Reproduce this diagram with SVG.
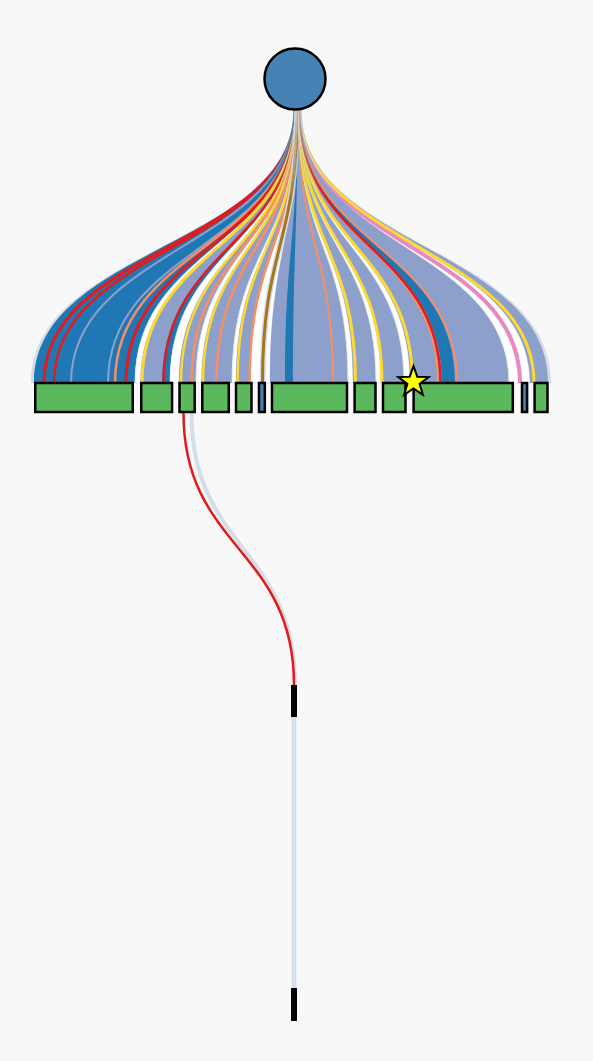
<svg xmlns="http://www.w3.org/2000/svg" width="593" height="1061" viewBox="0 0 593 1061">
<style>
.bar{fill:#5cb85c;stroke:#000;stroke-width:2.5}
.thin{fill:#4682b4;stroke:#000;stroke-width:2.5}
.term{fill:#000}
.bl{fill:#1f77b4}
.pu{fill:#8da0cb}
.wh{fill:#ffffff;stroke:#dde3ec;stroke-width:0.8}
.ln{fill:none}
</style>
<defs>
<clipPath id="env"><path d="M293.4,110 C293.4,246.5 31,246.5 31,383 L551,383 C551,246.5 301.6,246.5 301.6,110 Z"/></clipPath>
<linearGradient id="fade" gradientUnits="userSpaceOnUse" x1="0" y1="112" x2="0" y2="200">
<stop offset="0" stop-color="#fff" stop-opacity="0.2"/>
<stop offset="1" stop-color="#fff" stop-opacity="1"/>
</linearGradient>
<mask id="fm" maskUnits="userSpaceOnUse" x="0" y="0" width="593" height="420"><rect x="0" y="0" width="593" height="420" fill="url(#fade)"/></mask>
</defs>
<rect width="593" height="1061" fill="#f8f8f8"/>
<g id="connectors">
<path d="M293.4,110 C293.4,246.5 31,246.5 31,383 L551,383 C551,246.5 301.6,246.5 301.6,110 Z" fill="#d3dce8"/>
<path class="bl" d="M293.52,110 C293.52,246.5 34,246.5 34,383 L135,383 C135,246.5 295.08,246.5 295.08,110 Z"/>
<path class="wh" d="M295.08,110 C295.08,246.5 135,246.5 135,383 L140.5,383 C140.5,246.5 295.16,246.5 295.16,110 Z"/>
<path class="pu" d="M295.16,110 C295.16,246.5 140.5,246.5 140.5,383 L162,383 C162,246.5 295.49,246.5 295.49,110 Z"/>
<path class="bl" d="M295.49,110 C295.49,246.5 162,246.5 162,383 L170,383 C170,246.5 295.62,246.5 295.62,110 Z"/>
<path class="wh" d="M295.62,110 C295.62,246.5 170,246.5 170,383 L179,383 C179,246.5 295.75,246.5 295.75,110 Z"/>
<path class="pu" d="M295.75,110 C295.75,246.5 179,246.5 179,383 L196,383 C196,246.5 296.02,246.5 296.02,110 Z"/>
<path class="wh" d="M296.02,110 C296.02,246.5 196,246.5 196,383 L201.5,383 C201.5,246.5 296.1,246.5 296.1,110 Z"/>
<path class="pu" d="M296.1,110 C296.1,246.5 201.5,246.5 201.5,383 L232,383 C232,246.5 296.57,246.5 296.57,110 Z"/>
<path class="wh" d="M296.57,110 C296.57,246.5 232,246.5 232,383 L236,383 C236,246.5 296.64,246.5 296.64,110 Z"/>
<path class="pu" d="M296.64,110 C296.64,246.5 236,246.5 236,383 L250.5,383 C250.5,246.5 296.86,246.5 296.86,110 Z"/>
<path class="wh" d="M296.86,110 C296.86,246.5 250.5,246.5 250.5,383 L270,383 C270,246.5 297.16,246.5 297.16,110 Z"/>
<path class="pu" d="M297.16,110 C297.16,246.5 270,246.5 270,383 L348,383 C348,246.5 298.36,246.5 298.36,110 Z"/>
<path class="bl" d="M297.39,110 C297.39,246.5 285,246.5 285,383 L293,383 C293,246.5 297.52,246.5 297.52,110 Z"/>
<path class="wh" d="M298.36,110 C298.36,246.5 348,246.5 348,383 L353,383 C353,246.5 298.44,246.5 298.44,110 Z"/>
<path class="pu" d="M298.44,110 C298.44,246.5 353,246.5 353,383 L376,383 C376,246.5 298.8,246.5 298.8,110 Z"/>
<path class="wh" d="M298.8,110 C298.8,246.5 376,246.5 376,383 L381,383 C381,246.5 298.87,246.5 298.87,110 Z"/>
<path class="pu" d="M298.87,110 C298.87,246.5 381,246.5 381,383 L404,383 C404,246.5 299.23,246.5 299.23,110 Z"/>
<path class="wh" d="M299.23,110 C299.23,246.5 404,246.5 404,383 L410,383 C410,246.5 299.32,246.5 299.32,110 Z"/>
<path class="pu" d="M299.32,110 C299.32,246.5 410,246.5 410,383 L509,383 C509,246.5 300.85,246.5 300.85,110 Z"/>
<path class="bl" d="M299.82,110 C299.82,246.5 442,246.5 442,383 L455,383 C455,246.5 300.02,246.5 300.02,110 Z"/>
<path class="wh" d="M300.85,110 C300.85,246.5 509,246.5 509,383 L530,383 C530,246.5 301.18,246.5 301.18,110 Z"/>
<path class="pu" d="M301.18,110 C301.18,246.5 530,246.5 530,383 L548,383 C548,246.5 301.45,246.5 301.45,110 Z"/>
<g clip-path="url(#env)">
<g class="ln" mask="url(#fm)">
<path d="M293.67,110 C293.67,246.5 44,246.5 44,383" stroke="#e41a1c" stroke-width="3"/>
<path d="M293.82,110 C293.82,246.5 54,246.5 54,383" stroke="#e41a1c" stroke-width="2.5"/>
<path d="M294.09,110 C294.09,246.5 71,246.5 71,383" stroke="#8da0cb" stroke-width="2"/>
<path d="M294.66,110 C294.66,246.5 108,246.5 108,383" stroke="#8da0cb" stroke-width="2"/>
<path d="M294.77,110 C294.77,246.5 115,246.5 115,383" stroke="#fc8d62" stroke-width="2.5"/>
<path d="M294.94,110 C294.94,246.5 126,246.5 126,383" stroke="#e41a1c" stroke-width="3"/>
<path d="M295.18,110 C295.18,246.5 142,246.5 142,383" stroke="#ffd92f" stroke-width="3"/>
<path d="M295.52,110 C295.52,246.5 163.5,246.5 163.5,383" stroke="#e41a1c" stroke-width="2.5"/>
<path d="M295.79,110 C295.79,246.5 181,246.5 181,383" stroke="#ffd92f" stroke-width="2.5"/>
<path d="M295.95,110 C295.95,246.5 191.5,246.5 191.5,383" stroke="#fc8d62" stroke-width="2.5"/>
<path d="M296.13,110 C296.13,246.5 203,246.5 203,383" stroke="#ffd92f" stroke-width="2.5"/>
<path d="M296.34,110 C296.34,246.5 216.5,246.5 216.5,383" stroke="#fc8d62" stroke-width="2.5"/>
<path d="M296.66,110 C296.66,246.5 237.5,246.5 237.5,383" stroke="#ffd92f" stroke-width="2.5"/>
<path d="M296.84,110 C296.84,246.5 249.5,246.5 249.5,383" stroke="#fc8d62" stroke-width="2.5"/>
<path d="M297.04,110 C297.04,246.5 262.5,246.5 262.5,383" stroke="#d5dde8" stroke-width="6"/>
<path d="M297.04,110 C297.04,246.5 262.5,246.5 262.5,383" stroke="#a6761d" stroke-width="3"/>
<path d="M298.13,110 C298.13,246.5 333,246.5 333,383" stroke="#fc8d62" stroke-width="2"/>
<path d="M298.48,110 C298.48,246.5 355.5,246.5 355.5,383" stroke="#ffd92f" stroke-width="3"/>
<path d="M298.89,110 C298.89,246.5 382,246.5 382,383" stroke="#ffd92f" stroke-width="3"/>
<path d="M299.36,110 C299.36,246.5 412.5,246.5 412.5,383" stroke="#ffd92f" stroke-width="3"/>
<path d="M299.75,110 C299.75,246.5 438,246.5 438,383" stroke="#fc8d62" stroke-width="2"/>
<path d="M299.79,110 C299.79,246.5 440.5,246.5 440.5,383" stroke="#e41a1c" stroke-width="2.5"/>
<path d="M300.05,110 C300.05,246.5 457,246.5 457,383" stroke="#fc8d62" stroke-width="2"/>
<path d="M301.02,110 C301.02,246.5 520,246.5 520,383" stroke="#e78ac3" stroke-width="4"/>
<path d="M301.24,110 C301.24,246.5 534,246.5 534,383" stroke="#ffd92f" stroke-width="3"/>
</g>
</g>
<path d="M191.5,413 C191.5,548.5 295,548.5 295,685" fill="none" stroke="#d5dde8" stroke-width="4"/>
<path d="M183.5,413 C183.5,548.5 294,548.5 294,685" fill="none" stroke="#e41a1c" stroke-width="2.5"/>
<line x1="294" y1="717" x2="294" y2="988" stroke="#cfdbe8" stroke-width="4.5"/>
<line x1="294" y1="717" x2="294" y2="988" stroke="#dbe4ee" stroke-width="1.5"/>
</g>
<g id="root"><circle cx="295" cy="79" r="30.5" fill="#4682b4" stroke="#000" stroke-width="2.5"/></g>
<g id="n1"><rect class="bar" x="35.25" y="383" width="97.5" height="29"/></g>
<g id="n2"><rect class="bar" x="141.25" y="383" width="30.8" height="29"/></g>
<g id="n3"><rect class="bar" x="179.5" y="383" width="15.2" height="29"/></g>
<g id="n4"><rect class="bar" x="202.3" y="383" width="26.5" height="29"/></g>
<g id="n5"><rect class="bar" x="236" y="383" width="15.5" height="29"/></g>
<g id="n6"><rect class="thin" x="259" y="383" width="5.8" height="29"/></g>
<g id="n7"><rect class="bar" x="272" y="383" width="75" height="29"/></g>
<g id="n8"><rect class="bar" x="354.6" y="383" width="20.9" height="29"/></g>
<g id="n9"><rect class="bar" x="383" y="383" width="22.5" height="29"/></g>
<g id="n10"><rect class="bar" x="413.6" y="383" width="99.2" height="29"/></g>
<g id="n11"><rect class="thin" x="522" y="383" width="5.1" height="29"/></g>
<g id="n12"><rect class="bar" x="534.6" y="383" width="12.9" height="29"/></g>
<g id="star"><polygon points="413.5,366 417.3,376.8 428.7,377.1 419.6,384 422.9,394.9 413.5,388.4 404.1,394.9 407.4,384 398.3,377.1 409.7,376.8" fill="#ffff00" stroke="#000" stroke-width="2"/></g>
<g id="t1"><rect class="term" x="291" y="685" width="6" height="32"/></g>
<g id="t2"><rect class="term" x="291" y="988" width="6" height="33"/></g>
</svg>
